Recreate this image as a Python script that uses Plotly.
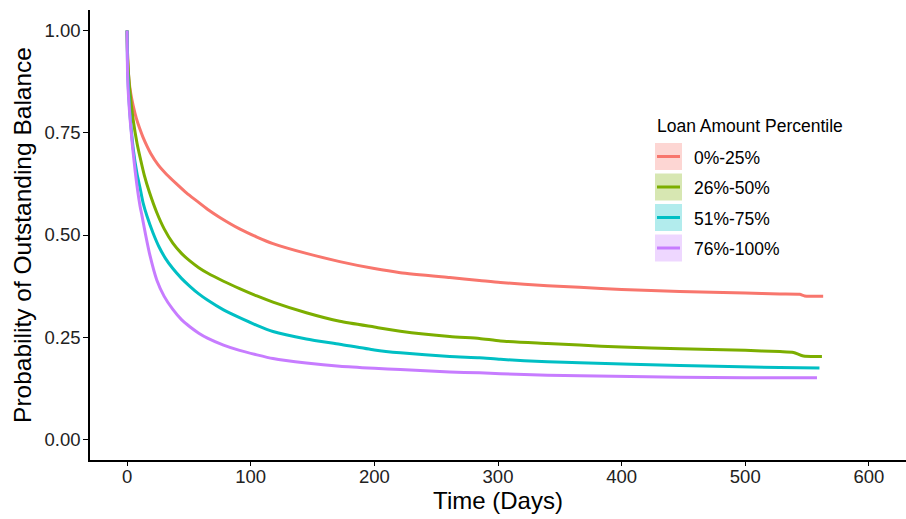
import plotly.graph_objects as go

# ---- data ----
groups = ["0%-25%", "26%-50%", "51%-75%", "76%-100%"]
colors = ["#F8766D", "#7CAE00", "#00BFC4", "#C77CFF"]
fills = ["rgba(248,118,109,0.3)", "rgba(124,174,0,0.3)", "rgba(0,191,196,0.3)", "rgba(199,124,255,0.3)"]

days_g1 = [0, 0.5, 1.5, 3, 5, 7.5, 10, 13, 16, 19, 25, 32, 40, 48, 56, 65, 75, 91, 105, 118, 145, 172,
           200, 221, 261, 285, 302, 340, 366, 400, 447, 500, 528, 544, 548, 563]
surv_g1 = [1.0, 0.93, 0.88, 0.845, 0.815, 0.785, 0.762, 0.738, 0.718, 0.70, 0.672, 0.648, 0.625, 0.603,
           0.584, 0.563, 0.543, 0.515, 0.495, 0.479, 0.455, 0.435, 0.418, 0.408, 0.396, 0.389, 0.384,
           0.376, 0.372, 0.367, 0.362, 0.358, 0.356, 0.355, 0.351, 0.350]

days_g2 = [0, 0.5, 2, 5, 8, 10.5, 14, 18, 24, 30, 37, 44, 51, 58, 65, 78, 91, 105, 118, 145, 172, 200,
           221, 261, 285, 302, 340, 366, 400, 447, 500, 528, 539, 547, 562]
surv_g2 = [1.0, 0.93, 0.86, 0.78, 0.725, 0.69, 0.645, 0.605, 0.555, 0.515, 0.48, 0.455, 0.436, 0.42,
           0.407, 0.387, 0.369, 0.351, 0.336, 0.31, 0.289, 0.275, 0.265, 0.252, 0.247, 0.241, 0.235,
           0.231, 0.226, 0.222, 0.218, 0.215, 0.213, 0.204, 0.203]

days_g3 = [0, 0.5, 2, 5, 8, 10.5, 13, 16, 21, 26, 31, 37, 44, 51, 58, 65, 78, 91, 105, 118, 145, 172,
           200, 221, 261, 285, 302, 340, 366, 447, 528, 560]
surv_g3 = [1.0, 0.90, 0.81, 0.71, 0.65, 0.615, 0.578, 0.547, 0.505, 0.47, 0.443, 0.418, 0.394, 0.374,
           0.356, 0.341, 0.317, 0.298, 0.279, 0.264, 0.246, 0.233, 0.219, 0.212, 0.203, 0.20, 0.196,
           0.19, 0.188, 0.181, 0.176, 0.175]

days_g4 = [0, 0.5, 2.5, 6.5, 10.5, 12, 15, 18.5, 24, 30, 37, 44, 51, 58, 65, 78, 91, 105, 118, 145, 172,
           200, 221, 261, 285, 302, 340, 366, 447, 500, 558]
surv_g4 = [1.0, 0.88, 0.78, 0.657, 0.57, 0.548, 0.50, 0.45, 0.39, 0.35, 0.318, 0.293, 0.275, 0.26,
           0.248, 0.231, 0.218, 0.207, 0.198, 0.187, 0.179, 0.174, 0.171, 0.165, 0.163, 0.161, 0.157,
           0.156, 0.152, 0.151, 0.151]

x_ticks = [0, 100, 200, 300, 400, 500, 600]
y_ticks = [0.0, 0.25, 0.5, 0.75, 1.0]
y_tick_labels = ["0.00", "0.25", "0.50", "0.75", "1.00"]

legend_title = "Loan Amount Percentile"
x_title = "Time (Days)"
y_title = "Probability of Outstanding Balance"

# ---- figure ----
W, H = 906, 519
ML, MR, MT, MB = 90, 0, 10, 59
PW, PH = W - ML - MR, H - MT - MB
FONT = "Liberation Sans, Arial, sans-serif"

fig = go.Figure()
all_days = [days_g1, days_g2, days_g3, days_g4]
all_surv = [surv_g1, surv_g2, surv_g3, surv_g4]
for name, col, d, s in zip(groups, colors, all_days, all_surv):
    fig.add_trace(go.Scatter(x=d, y=s, mode="lines", name=name,
                             line=dict(color=col, width=3, shape="spline", smoothing=0.6),
                             showlegend=False))


def px_x(p):
    return (p - ML) / PW


def px_y(p):
    return (H - MB - p) / PH


shapes = []
annotations = []
annotations.append(dict(x=px_x(655), y=px_y(126), xref="paper", yref="paper", text=legend_title,
                        showarrow=False, xanchor="left", yanchor="middle",
                        font=dict(family=FONT, size=17.5, color="black")))
for i, (name, col, fc) in enumerate(zip(groups, colors, fills)):
    top = 143 + i * 30.5
    bot = top + 27
    mid = (top + bot) / 2
    shapes.append(dict(type="rect", xref="paper", yref="paper", x0=px_x(655), x1=px_x(682),
                       y0=px_y(bot), y1=px_y(top), fillcolor=fc, line=dict(width=0), layer="above"))
    shapes.append(dict(type="line", xref="paper", yref="paper", x0=px_x(657), x1=px_x(680),
                       y0=px_y(mid), y1=px_y(mid), line=dict(color=col, width=3), layer="above"))
    annotations.append(dict(x=px_x(692), y=px_y(mid + 1.5), xref="paper", yref="paper", text=name,
                            showarrow=False, xanchor="left", yanchor="middle",
                            font=dict(family=FONT, size=17.5, color="black")))

fig.update_layout(
    width=W, height=H,
    margin=dict(l=ML, r=MR, t=MT, b=MB, pad=0),
    paper_bgcolor="white", plot_bgcolor="white",
    font=dict(family=FONT, color="black"),
    shapes=shapes, annotations=annotations,
    xaxis=dict(range=[-30, 630], tickvals=x_ticks, showgrid=False, zeroline=False,
               showline=True, linecolor="black", linewidth=1.5,
               ticks="outside", ticklen=4, tickwidth=1.2, tickcolor="black",
               ticklabelstandoff=-5,
               tickfont=dict(family=FONT, size=18.5, color="#222222"),
               title=dict(text=x_title, font=dict(family=FONT, size=24, color="black"), standoff=6)),
    yaxis=dict(range=[-0.05, 1.05], tickvals=y_ticks, ticktext=y_tick_labels, showgrid=False,
               zeroline=False, showline=True, linecolor="black", linewidth=1.5,
               ticks="outside", ticklen=5, tickwidth=1.2, tickcolor="black",
               ticklabelstandoff=-1,
               tickfont=dict(family=FONT, size=18.5, color="#222222"),
               title=dict(text=y_title, font=dict(family=FONT, size=24.5, color="black"), standoff=6)),
)

fig.write_html("out.html")
